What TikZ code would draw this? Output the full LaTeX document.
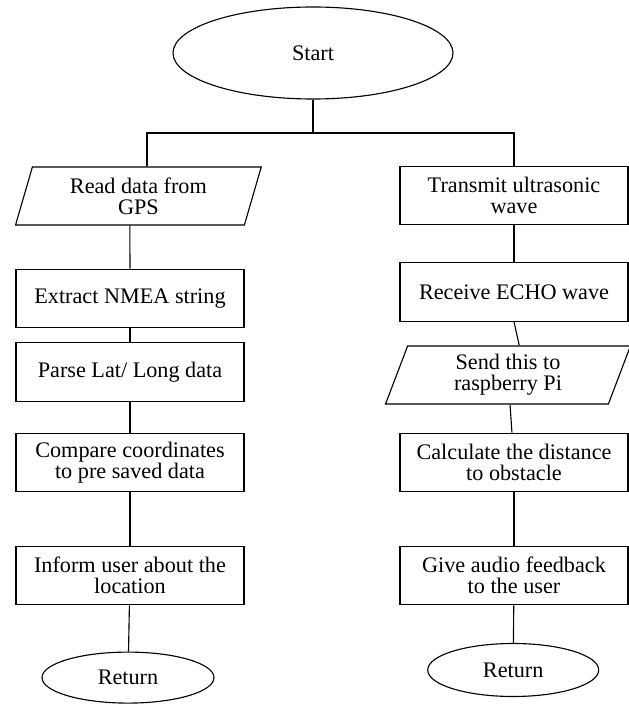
\documentclass[tikz,border=0pt]{standalone}
\usepackage{fontspec}
\setmainfont{Liberation Serif}
\usetikzlibrary{shapes.geometric, calc}

\begin{document}
\begin{tikzpicture}[
    every node/.style={font=\rmfamily\fontsize{15.8}{14.8}\selectfont},
    box/.style={
        rectangle,
        draw=black,
        line width=0.8pt,
        minimum width=5.7cm,
        minimum height=1.46cm,
        align=center,
        inner sep=2pt
    },
    iobox/.style={
        trapezium,
        trapezium left angle=75,
        trapezium right angle=105,
        trapezium stretches=true,
        draw=black,
        line width=0.8pt,
        minimum width=6.15cm,
        minimum height=1.45cm,
        align=center,
        inner sep=2pt
    },
    terminal/.style={ellipse, draw=black, line width=0.8pt, align=center, inner sep=0pt},
    line/.style={draw=black, line width=0.8pt}
]

\useasboundingbox (0,0) rectangle (15.725,17.6);

% START
\node[terminal, minimum width=7cm, minimum height=2.3cm] (start) at (7.825,16.275) {Start};
\coordinate (split) at (7.825,14.275);

% GPS BRANCH
\node[iobox] (read) at (3.46,12.7) {Read data from\\GPS};
\node[box] (extract) at (3.25,10.14) {Extract NMEA string};
\node[box] (parse) at (3.25,8.3) {Parse Lat/ Long data};
\node[box] (compare) at (3.25,6.04) {Compare coordinates\\to pre saved data};
\node[box] (inform) at (3.25,3.21) {Inform user about the\\location};
\node[terminal, minimum width=4.3cm, minimum height=1.275cm] (ret1) at (3.2,0.66) {Return};

% ULTRASONIC BRANCH
\node[box] (transmit) at (12.85,12.71) {Transmit ultrasonic\\wave};
\node[box] (receive) at (12.85,10.3) {Receive ECHO wave};
\node[iobox] (send) at (12.7,8.225) {Send this to\\raspberry Pi};
\node[box] (calc) at (12.85,6.04) {Calculate the distance\\to obstacle};
\node[box] (give) at (12.85,3.21) {Give audio feedback\\to the user};
\node[terminal, minimum width=4.275cm, minimum height=1.325cm] (ret2) at (12.83,0.85) {Return};

% LINES
\draw[line] (start) -- (split);
\draw[line] ($(read.top left corner)!.5!(read.top right corner)$) |- (split) -| (transmit.north);
\draw[line] ($(read.bottom left corner)!.5!(read.bottom right corner)$) -- (extract.north);
\draw[line] (extract) -- (parse);
\draw[line] (parse) -- (compare);
\draw[line] (compare) -- (inform);
\draw[line] (inform) -- (ret1);
\draw[line] (transmit) -- (receive);
\draw[line] (receive.south) -- ($(send.top left corner)!.5!(send.top right corner)$);
\draw[line] (send) -- (calc);
\draw[line] (calc) -- (give);
\draw[line] (give) -- (ret2);

\end{tikzpicture}
\end{document}
